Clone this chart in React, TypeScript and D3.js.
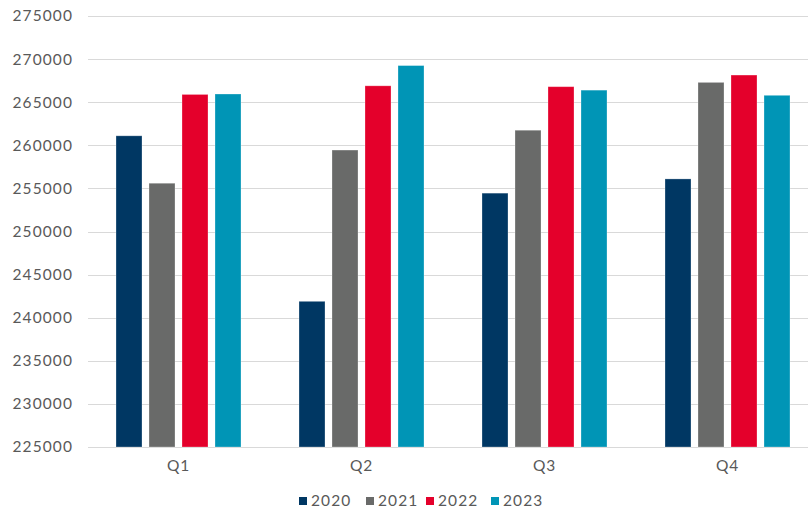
import React, { useEffect, useRef } from 'react';
import * as d3 from 'd3';

// quarters on the x axis, one series per year
const quarters = ['Q1', 'Q2', 'Q3', 'Q4'];
const years = ['2020', '2021', '2022', '2023'];
const colors = ['#003763', '#696a69', '#e4002b', '#0095b6'];

const values2020 = [261100, 241900, 254450, 256100];
const values2021 = [255600, 259450, 261750, 267300];
const values2022 = [265900, 266900, 266800, 268150];
const values2023 = [265950, 269250, 266400, 265800];

const yTicks = [225000, 230000, 235000, 240000, 245000, 250000, 255000, 260000, 265000, 270000, 275000];

const W = 808;
const H = 509;

export default function App() {
  const svgRef = useRef<SVGSVGElement | null>(null);

  useEffect(() => {
    const svg = d3.select(svgRef.current);
    svg.selectAll('*').remove();

    const font = 'Lato, "Open Sans", sans-serif';
    const series = [values2020, values2021, values2022, values2023];

    const x0 = d3.scaleBand().domain(quarters).range([87, 819]).padding(0);
    const x1 = d3.scaleBand()
      .domain(years)
      .range([0, 132])
      .paddingInner(7 / 33)
      .paddingOuter(3.5 / 33);
    const y = d3.scaleLinear().domain([225000, 275000]).range([447, 16]);
    const color = d3.scaleOrdinal<string, string>().domain(years).range(colors);

    // gridlines
    svg.append('g')
      .selectAll('line')
      .data(yTicks)
      .join('line')
      .attr('x1', 88)
      .attr('x2', W)
      .attr('y1', d => Math.round(y(d)) + 0.5)
      .attr('y2', d => Math.round(y(d)) + 0.5)
      .attr('stroke', '#d9d9d9')
      .attr('stroke-width', 1);

    // y labels (letter-spacing widens Lato toward the reference's wider face)
    svg.append('g')
      .selectAll('text')
      .data(yTicks)
      .join('text')
      .attr('x', 73)
      .attr('y', d => y(d))
      .attr('dy', '0.35em')
      .attr('text-anchor', 'end')
      .attr('font-family', font)
      .attr('font-size', 15.5)
      .attr('letter-spacing', 1.1)
      .attr('fill', '#595959')
      .text(d => String(d));

    // bars
    const groups = svg.append('g')
      .selectAll('g')
      .data(quarters)
      .join('g')
      .attr('transform', q => `translate(${x0(q)! + x0.bandwidth() / 2 - 66},0)`);

    groups.selectAll('rect')
      .data((q, qi) => years.map((yr, si) => ({ yr, v: series[si][qi] })))
      .join('rect')
      .attr('x', d => x1(d.yr)!)
      .attr('width', x1.bandwidth())
      .attr('y', d => y(d.v))
      .attr('height', d => y(225000) - y(d.v))
      .attr('fill', d => color(d.yr))
      .attr('stroke', 'rgba(255,255,255,0.35)')
      .attr('stroke-width', 0.8);

    // x labels
    svg.append('g')
      .selectAll('text')
      .data(quarters)
      .join('text')
      .attr('x', q => x0(q)! + x0.bandwidth() / 2)
      .attr('y', 466)
      .attr('dy', '0.35em')
      .attr('text-anchor', 'middle')
      .attr('font-family', font)
      .attr('font-size', 15.5)
      .attr('letter-spacing', 0.8)
      .attr('fill', '#595959')
      .text(q => q);

    // legend
    const legendX = [299, 366, 426, 491];
    const legend = svg.append('g')
      .selectAll('g')
      .data(years)
      .join('g')
      .attr('transform', (d, i) => `translate(${legendX[i]},501)`);
    legend.append('rect')
      .attr('x', 0)
      .attr('y', -4)
      .attr('width', 8)
      .attr('height', 8)
      .attr('fill', d => color(d));
    legend.append('text')
      .attr('x', 12)
      .attr('y', 0)
      .attr('dy', '0.35em')
      .attr('font-family', font)
      .attr('font-size', 15.5)
      .attr('letter-spacing', 1.1)
      .attr('fill', '#595959')
      .text(d => d);
  }, []);

  return (
    <svg
      ref={svgRef}
      width={W}
      height={H}
      style={{ position: 'absolute', left: 0, top: 0, background: '#fff' }}
    />
  );
}
